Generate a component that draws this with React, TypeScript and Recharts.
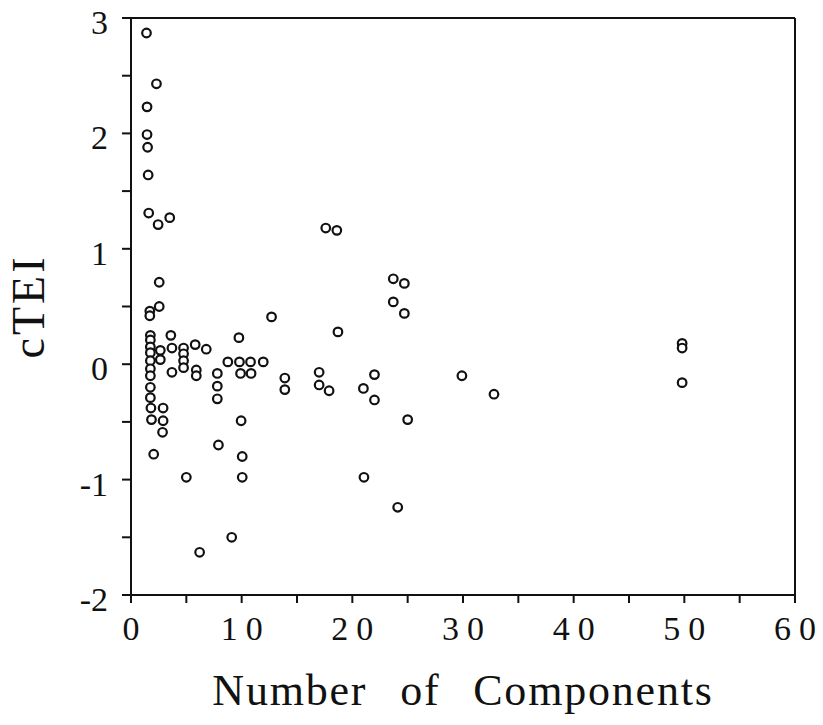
import React from 'react';
import { ScatterChart, Scatter, XAxis, YAxis, ReferenceLine } from 'recharts';

// number of components (x) and cTEI (y)
const componentCounts = [
  1.4, 2.3, 1.45, 1.45, 1.5, 1.55, 1.6, 2.45, 3.5, 2.55, 2.55, 1.7, 1.7, 12.7,
  1.75, 1.75, 1.75, 1.75, 1.75, 1.75, 1.75, 1.75, 1.75, 1.8, 1.85,
  2.65, 2.65, 3.6, 3.7, 3.7, 4.75, 4.75, 4.75, 4.75, 5.8, 5.9, 5.9, 6.8,
  2.9, 2.9, 2.85, 2.05, 5.0, 6.2, 7.8, 7.8, 7.8, 7.9, 9.1,
  8.75, 9.75, 9.8, 9.9, 10.8, 10.85, 11.95, 9.95, 10.05, 10.05,
  13.9, 13.9, 17.0, 17.0, 17.9, 17.6, 18.6, 23.7, 24.7, 23.7, 24.7, 18.7,
  21.0, 22.0, 22.0, 25.0, 29.9, 21.05, 24.1, 32.8, 49.8, 49.8, 49.8,
];
const cteiValues = [
  2.87, 2.43, 2.23, 1.99, 1.88, 1.64, 1.31, 1.21, 1.27, 0.71, 0.5, 0.46, 0.42, 0.41,
  0.25, 0.21, 0.15, 0.1, 0.03, -0.04, -0.1, -0.2, -0.29, -0.38, -0.48,
  0.12, 0.04, 0.25, 0.14, -0.07, 0.14, 0.09, 0.03, -0.03, 0.17, -0.05, -0.1, 0.13,
  -0.38, -0.49, -0.59, -0.78, -0.98, -1.63, -0.08, -0.19, -0.3, -0.7, -1.5,
  0.02, 0.23, 0.02, -0.08, 0.02, -0.08, 0.02, -0.49, -0.8, -0.98,
  -0.12, -0.22, -0.07, -0.18, -0.23, 1.18, 1.16, 0.74, 0.7, 0.54, 0.44, 0.28,
  -0.21, -0.09, -0.31, -0.48, -0.1, -0.98, -1.24, -0.26, 0.18, 0.14, -0.16,
];
const xTicks = [0, 5, 10, 15, 20, 25, 30, 35, 40, 45, 50, 55, 60];
const yTicks = [-2, -1.5, -1, -0.5, 0, 0.5, 1, 1.5, 2, 2.5, 3];

const data = componentCounts.map((x, i) => ({ x, y: cteiValues[i] }));

const FONT = '"Liberation Serif", "DejaVu Serif", serif';
const INK = '#111';

const XTick = (props: any) => {
  const { x, y, payload } = props;
  if (payload.value % 10 !== 0) return <g />;
  const label = String(payload.value);
  const spacing = label.length > 1 ? 8 : 0;
  return (
    <text x={x + spacing / 2} y={y + 35} textAnchor="middle" fontFamily={FONT} fontSize={34}
      letterSpacing={spacing} fill={INK}>
      {label}
    </text>
  );
};

const YTick = (props: any) => {
  const { x, y, payload } = props;
  if (!Number.isInteger(payload.value)) return <g />;
  return (
    <text x={x - 12} y={y + 16} textAnchor="end" fontFamily={FONT} fontSize={34} fill={INK}>
      {payload.value}
    </text>
  );
};

const Ring = (props: any) => (
  <circle cx={props.cx} cy={props.cy} r={4.3} fill="#fff" stroke={INK} strokeWidth={2.2} />
);

export default function App() {
  return (
    <div style={{ position: 'absolute', left: 0, top: 0, width: 823, height: 725, background: '#fff' }}>
      <ScatterChart width={823} height={725} margin={{ top: 18, right: 28, bottom: 0, left: 0 }}>
        <XAxis
          type="number"
          dataKey="x"
          domain={[0, 60]}
          ticks={xTicks}
          interval={0}
          height={130}
          tickSize={8}
          tick={<XTick />}
          axisLine={{ stroke: INK, strokeWidth: 2 }}
          tickLine={{ stroke: INK, strokeWidth: 2 }}
          label={{ value: 'Number of Components', position: 'insideBottom', offset: 20, fontFamily: FONT, fontSize: 44, fill: INK, letterSpacing: 1.8, wordSpacing: 20 }}
        />
        <YAxis
          type="number"
          dataKey="y"
          domain={[-2, 3]}
          ticks={yTicks}
          interval={0}
          width={131}
          tickSize={9}
          tick={<YTick />}
          axisLine={{ stroke: INK, strokeWidth: 2 }}
          tickLine={{ stroke: INK, strokeWidth: 2 }}
          label={{ value: 'cTEI', angle: -90, position: 'insideLeft', offset: 28, fontFamily: FONT, fontSize: 46, fill: INK, letterSpacing: 3, textAnchor: 'middle' }}
        />
        <ReferenceLine y={3} stroke={INK} strokeWidth={2} ifOverflow="extendDomain" />
        <ReferenceLine x={60} stroke={INK} strokeWidth={2} ifOverflow="extendDomain" />
        <Scatter data={data} shape={<Ring />} isAnimationActive={false} />
      </ScatterChart>
    </div>
  );
}
